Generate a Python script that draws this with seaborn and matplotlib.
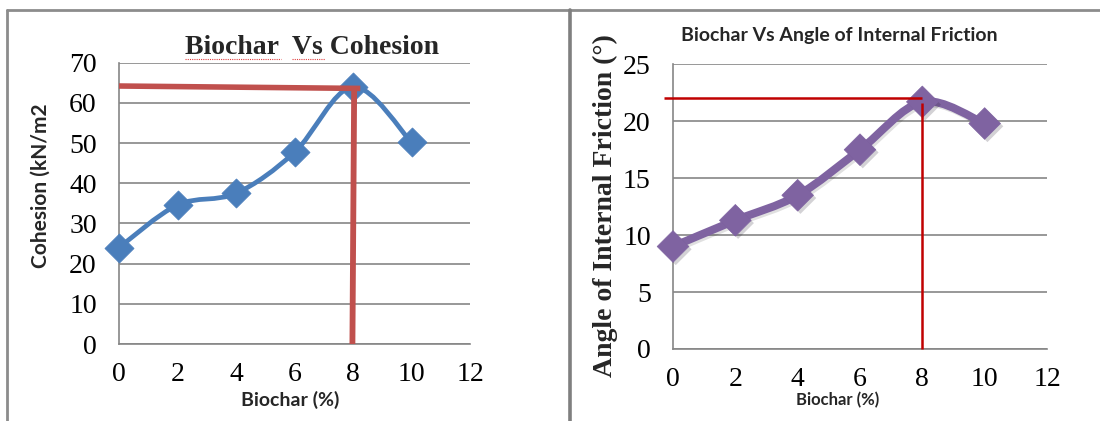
"""
Biochar content vs cohesion and angle of internal friction
"""
import numpy as np
import matplotlib
matplotlib.use("Agg")
import matplotlib.pyplot as plt
import matplotlib.patheffects as pe
from matplotlib.path import Path
from matplotlib.patches import PathPatch
from matplotlib.lines import Line2D
import seaborn as sns

# data
biochar = [0, 2, 4, 6, 8, 10]
cohesion = [24.0, 34.6, 37.5, 47.7, 64.0, 50.2]
friction = [9.0, 11.3, 13.5, 17.5, 21.7, 19.8]

x_ticks = [0, 2, 4, 6, 8, 10, 12]
coh_ticks = [0, 10, 20, 30, 40, 50, 60, 70]
fric_ticks = [0, 5, 10, 15, 20, 25]

coh_peak = 64.0
fric_peak = 22.0
peak_x = 8

W, H = 1100, 421
SERIF = "Liberation Serif"
SANS = "Lato"
GRID = "#868686"
BLUE = "#4A7EBB"
PURPLE = "#7F63A1"


def fx(px):
    return px / W


def fy(py):
    return 1 - py / H


def smooth_path(xs, ys):
    """Excel-like smoothed line: cubic bezier through the points"""
    pts = np.column_stack([xs, ys]).astype(float)
    ext = np.vstack([pts[0], pts, pts[-1]])
    verts = [pts[0]]
    codes = [Path.MOVETO]
    for i in range(len(pts) - 1):
        p_prev, p0, p1, p_next = ext[i], ext[i + 1], ext[i + 2], ext[i + 3]
        c1 = p0 + (p1 - p_prev) / 6.0
        c2 = p1 - (p_next - p0) / 6.0
        verts += [c1, c2, p1]
        codes += [Path.CURVE4] * 3
    return Path(verts, codes)


def style_axes(ax, yticks):
    ax.set_xlim(0, 12)
    ax.set_ylim(yticks[0], yticks[-1])
    ax.set_xticks(x_ticks)
    ax.set_yticks(yticks)
    ax.set_xticklabels([str(t) for t in x_ticks])
    ax.set_yticklabels([str(t) for t in yticks])
    ax.yaxis.grid(True, color=GRID, lw=1.2)
    ax.xaxis.grid(False)
    ax.set_axisbelow(True)
    for side in ["top", "right"]:
        ax.spines[side].set_visible(False)
    for side in ["left", "bottom"]:
        ax.spines[side].set_color(GRID)
        ax.spines[side].set_linewidth(1.2)
    ax.tick_params(axis="both", direction="out", length=5, width=1.2,
                   color=GRID, labelsize=20, labelcolor="black")
    ax.tick_params(axis="y", pad=11)
    ax.tick_params(axis="x", pad=8)
    for lab in ax.get_xticklabels() + ax.get_yticklabels():
        lab.set_fontfamily(SERIF)
    ax.set_xlabel("")
    ax.set_ylabel("")


sns.set_style("white")
plt.rcParams["font.family"] = [SERIF, "DejaVu Sans"]

fig = plt.figure(figsize=(W / 100, H / 100), dpi=100)

# ---- left: cohesion ----
ax1 = fig.add_axes([fx(119), fy(344), fx(470 - 119), (344 - 62.7) / H])
ax1.add_patch(PathPatch(smooth_path(biochar, cohesion), facecolor="none",
                        edgecolor=BLUE, lw=3.4, capstyle="round",
                        joinstyle="round", zorder=3))
sns.scatterplot(x=biochar, y=cohesion, ax=ax1, marker="D", s=220,
                color=BLUE, edgecolor=BLUE, linewidth=0.5, zorder=4,
                legend=False, clip_on=False)
ax1.plot([0, 8.25], [coh_peak + 0.2, coh_peak - 0.4], color="#C0504D",
         lw=4, solid_capstyle="butt", clip_on=False, zorder=5)
ax1.plot([7.98, 8.04], [0, coh_peak - 0.4], color="#C0504D",
         lw=4.2, solid_capstyle="butt", clip_on=False, zorder=5)
style_axes(ax1, coh_ticks)

# ---- right: angle of internal friction ----
ax2 = fig.add_axes([fx(673), fy(349), fx(1047 - 673), (349 - 64.3) / H])
ax2.add_patch(PathPatch(smooth_path(biochar, friction), facecolor="none",
                        edgecolor=PURPLE, lw=5.8, capstyle="round",
                        joinstyle="round", zorder=3,
                        path_effects=[pe.SimpleLineShadow(offset=(1.5, -1.5), alpha=0.12),
                                      pe.Normal()]))
sns.scatterplot(x=biochar, y=friction, ax=ax2, marker="D", s=260,
                color=PURPLE, edgecolor=PURPLE, linewidth=0.5, zorder=4,
                legend=False, clip_on=False,
                path_effects=[pe.SimplePatchShadow(offset=(2, -2), alpha=0.2),
                              pe.Normal()])
ax2.plot([-0.29, peak_x], [fric_peak, fric_peak], color="#C00000",
         lw=1.8, solid_capstyle="butt", clip_on=False, zorder=5)
ax2.plot([peak_x, peak_x], [0, fric_peak - 0.4], color="#C00000",
         lw=1.8, solid_capstyle="butt", clip_on=False, zorder=5)
style_axes(ax2, fric_ticks)

# ---- titles and axis labels ----
fig.text(fx(312), fy(47), "Biochar  Vs Cohesion", family=SERIF,
         fontweight="bold", fontsize=20, ha="center", va="center")
fig.text(fx(839), fy(35), "Biochar Vs Angle of Internal Friction",
         family=SANS, fontweight="bold", fontsize=14, ha="center",
         va="center")
fig.text(fx(41), fy(186), "Cohesion (kN/m2", family=SANS, fontweight="bold",
         fontsize=15, rotation=90, ha="center", va="center")
fig.text(fx(605), fy(206), "Angle of Internal Friction (\u00b0)", family=SERIF,
         fontweight="bold", fontsize=20, rotation=90, ha="center",
         va="center")
fig.text(fx(290), fy(400), "Biochar (%)", family=SANS, fontweight="bold",
         fontsize=14, ha="center", va="center")
fig.text(fx(838), fy(400), "Biochar (%)", family=SANS, fontweight="bold",
         fontsize=12, ha="center", va="center")

# spell-check squiggles under the left title
for x0, x1 in [(185, 281), (292, 325)]:
    fig.add_artist(Line2D([fx(x0), fx(x1)], [fy(59), fy(59)], color="#E04040",
                          lw=0.8, ls=(0, (1, 1))))

# table cell borders around the two charts
border = dict(color="#8C8C8C", lw=2)
fig.add_artist(Line2D([fx(7), fx(1100)], [fy(10), fy(10)], **border))
fig.add_artist(Line2D([fx(7), fx(7)], [fy(10), 0], **border))
fig.add_artist(Line2D([fx(570), fx(570)], [fy(10), 0], color="#7F7F7F", lw=2.6))

fig.savefig("out.png", dpi=100)
